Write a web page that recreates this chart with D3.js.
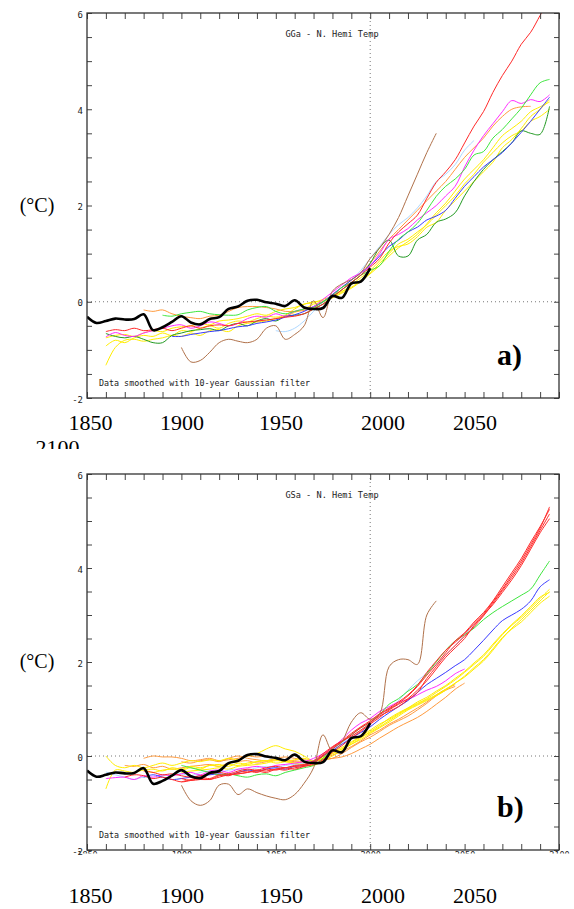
<!DOCTYPE html>
<html><head><meta charset="utf-8">
<script src="https://cdn.jsdelivr.net/npm/d3@7"></script>
<style>html,body{margin:0;padding:0;background:#fff;} svg{display:block;}</style>
</head><body><svg id="c" width="574" height="909"></svg>
<script>
// ---------------- DATA ----------------
const yearLabels = ["1850","1900","1950","2000","2050"];
const yTickLabels = [-2, 0, 2, 4, 6];
const titleTop = "GGa - N. Hemi Temp";
const titleBottom = "GSa - N. Hemi Temp";
const noteText = "Data smoothed with 10-year Gaussian filter";
const unitText = "(°C)";

// observations (1850-2000, 5-yr steps)
const obsStart = 1850;
const obsValues = [-0.31,-0.44,-0.40,-0.35,-0.37,-0.36,-0.26,-0.59,-0.53,-0.42,-0.30,-0.43,-0.47,-0.36,-0.32,-0.15,-0.10,0.02,0.04,-0.01,-0.04,-0.09,0.03,-0.12,-0.15,-0.13,0.12,0.08,0.38,0.42,0.70];

// ---- panel a) GGa (5-yr steps) ----
const topRed = [-0.62,-0.58,-0.60,-0.55,-0.60,-0.58,-0.55,-0.60,-0.55,-0.50,-0.55,-0.50,-0.48,-0.50,-0.45,-0.42,-0.40,-0.38,-0.35,-0.32,-0.30,-0.25,-0.15,-0.05,0.10,0.25,0.40,0.55,0.72,0.90,1.22,1.45,1.62,1.80,2.15,2.48,2.70,2.95,3.30,3.65,3.95,4.35,4.70,5.00,5.35,5.60,5.95,6.30]; // from 1860
const topGreen = [-0.28,-0.30,-0.25,-0.22,-0.20,-0.25,-0.27,-0.28,-0.27,-0.17,-0.12,-0.10,-0.20,-0.25,-0.20,-0.15,-0.12,0.00,0.12,0.30,0.40,0.55,0.65,0.75,1.05,1.30,1.45,1.63,1.90,2.19,2.40,2.55,2.75,3.05,3.12,3.40,3.58,3.80,4.02,4.30,4.55,4.62]; // from 1890
const topDarkGreen = [-0.66,-0.72,-0.75,-0.72,-0.78,-0.85,-0.85,-0.70,-0.65,-0.60,-0.58,-0.56,-0.60,-0.50,-0.45,-0.50,-0.40,-0.35,-0.40,-0.30,-0.28,-0.25,-0.15,-0.05,0.10,0.25,0.40,0.55,0.80,1.12,1.28,0.95,0.95,1.28,1.40,1.65,1.72,1.85,2.20,2.50,2.75,2.95,3.12,3.30,3.55,3.50,3.48,4.06]; // from 1860
const topMagenta = [-0.73,-0.64,-0.70,-0.72,-0.65,-0.60,-0.55,-0.50,-0.48,-0.55,-0.50,-0.42,-0.45,-0.50,-0.45,-0.35,-0.30,-0.32,-0.25,-0.30,-0.20,-0.15,-0.10,0.05,0.20,0.35,0.50,0.60,0.75,1.00,1.30,1.40,1.52,1.70,1.85,2.00,2.20,2.40,2.80,3.15,3.45,3.70,3.95,4.18,4.12,4.20,4.16,4.30]; // from 1860
const topBlue = [-0.72,-0.72,-0.68,-0.65,-0.62,-0.60,-0.56,-0.52,-0.50,-0.45,-0.42,-0.38,-0.32,-0.27,-0.20,-0.10,0.00,0.15,0.30,0.45,0.60,0.75,0.95,1.15,1.28,1.45,1.55,1.70,1.78,1.90,2.15,2.40,2.60,2.80,2.95,3.10,3.30,3.52,3.75,4.00,4.25]; // from 1895
const topOrange = [-0.17,-0.20,-0.17,-0.25,-0.30,-0.33,-0.35,-0.30,-0.28,-0.20,-0.12,-0.10,-0.10,-0.12,-0.15,-0.20,-0.20,-0.18,-0.12,0.00,0.15,0.30,0.45,0.60,0.80,1.05,1.30,1.50,1.70,1.90,2.10,2.30,2.50,2.75,3.00,3.20,3.40,3.65,3.85,4.00,4.05,4.06]; // from 1880
const topLightBlue = [-0.60,-0.62,-0.55,-0.40,-0.20,0.00,0.15,0.30,0.45,0.65,0.90,1.15,1.40,1.60,1.75,1.95,2.20,2.50,2.65,2.85,3.15,3.35]; // from 1950
const topYellow1 = [-1.32,-0.95,-0.80,-0.78,-0.82,-0.78,-0.75,-0.70,-0.72,-0.65,-0.70,-0.60,-0.58,-0.62,-0.50,-0.45,-0.42,-0.40,-0.35,-0.30,-0.22,-0.15,-0.05,0.00,0.10,0.20,0.35,0.50,0.65,0.85,1.05,1.15,1.20,1.35,1.55,1.65,1.90,2.10,2.30,2.50,2.70,2.90,3.20,3.37,3.60,3.85,4.00,4.20]; // from 1860
const topYellow2 = [-0.92,-0.80,-0.85,-0.75,-0.70,-0.72,-0.65,-0.70,-0.60,-0.62,-0.55,-0.50,-0.55,-0.45,-0.40,-0.42,-0.35,-0.30,-0.32,-0.28,-0.15,-0.05,-0.02,0.05,0.12,0.22,0.30,0.45,0.60,0.80,1.00,1.20,1.30,1.45,1.60,1.80,2.00,2.20,2.45,2.65,2.90,3.10,3.30,3.45,3.55,3.75,3.85,4.00]; // from 1860
const topYellow3 = [-0.75,-0.70,-0.68,-0.72,-0.65,-0.60,-0.62,-0.55,-0.52,-0.50,-0.45,-0.48,-0.40,-0.38,-0.35,-0.30,-0.25,-0.28,-0.20,-0.15,-0.12,-0.05,0.00,0.02,0.08,0.18,0.28,0.42,0.58,0.75,0.95,1.12,1.25,1.40,1.62,1.85,2.05,2.30,2.55,2.75,2.95,3.20,3.45,3.60,3.75,3.95,4.05,4.15]; // from 1860
const topBrown = [-0.95,-1.25,-1.22,-1.05,-0.85,-0.78,-0.82,-0.85,-0.78,-0.55,-0.50,-0.78,-0.68,-0.50,0.02,-0.33,0.22,0.37,0.46,0.60,0.90,1.12,1.40,1.75,2.20,2.65,3.10,3.50]; // from 1900

// ---- panel b) GSa (5-yr steps) ----
const botRed1 = [-0.48,-0.52,-0.50,-0.50,-0.45,-0.40,-0.38,-0.35,-0.30,-0.32,-0.28,-0.30,-0.25,-0.22,-0.15,0.00,0.15,0.30,0.45,0.60,0.72,0.85,0.95,1.05,1.20,1.35,1.65,1.90,2.15,2.35,2.55,2.75,2.98,3.25,3.52,3.80,4.10,4.45,4.80,5.15]; // from 1900
const botRed2 = [-0.32,-0.35,-0.40,-0.38,-0.42,-0.45,-0.42,-0.38,-0.35,-0.38,-0.32,-0.28,-0.30,-0.25,-0.22,-0.25,-0.20,-0.18,-0.10,0.05,0.20,0.32,0.42,0.55,0.70,0.88,1.00,1.12,1.28,1.48,1.72,1.95,2.20,2.45,2.62,2.85,3.05,3.30,3.60,3.90,4.20,4.55,4.88,5.25]; // from 1880
const botRed3 = [-0.45,-0.40,-0.42,-0.48,-0.45,-0.50,-0.55,-0.52,-0.48,-0.50,-0.42,-0.40,-0.38,-0.35,-0.32,-0.35,-0.28,-0.25,-0.28,-0.22,-0.18,-0.08,0.08,0.22,0.38,0.52,0.68,0.82,0.98,1.10,1.22,1.40,1.60,1.85,2.10,2.30,2.50,2.78,3.00,3.22,3.48,3.75,4.05,4.40,4.75,5.05]; // from 1870
const botRed4 = [-0.55,-0.50,-0.45,-0.48,-0.40,-0.42,-0.35,-0.32,-0.35,-0.28,-0.30,-0.25,-0.22,-0.20,-0.12,0.02,0.18,0.32,0.48,0.62,0.75,0.90,1.02,1.15,1.30,1.50,1.78,2.02,2.25,2.42,2.60,2.82,3.02,3.28,3.55,3.85,4.15,4.50,4.85,5.30]; // from 1900
const botGreen = [-0.20,-0.25,-0.30,-0.35,-0.40,-0.38,-0.42,-0.45,-0.40,-0.38,-0.42,-0.35,-0.30,-0.25,-0.20,-0.05,0.15,0.30,0.45,0.60,0.72,0.88,1.10,1.22,1.38,1.52,1.75,2.00,2.25,2.45,2.58,2.72,2.90,3.05,3.18,3.30,3.42,3.55,3.85,4.15]; // from 1900
const botBlue = [-0.45,-0.40,-0.45,-0.50,-0.48,-0.45,-0.42,-0.40,-0.38,-0.40,-0.35,-0.30,-0.32,-0.28,-0.25,-0.28,-0.22,-0.20,-0.12,0.00,0.12,0.25,0.38,0.50,0.62,0.78,0.92,1.05,1.18,1.35,1.52,1.65,1.78,1.92,2.05,2.25,2.46,2.68,2.88,3.00,3.12,3.30,3.60,3.75]; // from 1880
const botLightBlue = [-0.34,-0.40,-0.45,-0.50,-0.45,-0.48,-0.42,-0.40,-0.38,-0.42,-0.35,-0.32,-0.35,-0.30,-0.28,-0.30,-0.25,-0.22,-0.25,-0.20,-0.18,-0.15,-0.10,0.02,0.15,0.28,0.42,0.55,0.70,0.85,1.00,1.18,1.40,1.60,1.76,1.95,2.15,2.35,2.58,2.80]; // from 1860
const botMagenta = [-0.48,-0.46,-0.45,-0.50,-0.42,-0.45,-0.40,-0.42,-0.38,-0.35,-0.40,-0.32,-0.30,-0.35,-0.28,-0.25,-0.22,-0.25,-0.20,-0.18,-0.15,-0.12,-0.05,0.05,0.18,0.35,0.55,0.70,0.80,0.95,1.05,1.15,1.20,1.30,1.40,1.48,1.60,1.75,1.85]; // from 1860
const botYellow1 = [0.00,-0.20,-0.25,-0.20,-0.25,-0.20,-0.15,-0.20,-0.15,-0.10,-0.12,-0.08,-0.10,-0.05,-0.08,0.00,0.05,0.15,0.22,0.15,0.10,0.00,-0.10,-0.05,0.05,0.15,0.28,0.40,0.50,0.62,0.75,0.88,1.00,1.10,1.20,1.30,1.42,1.55,1.68,1.85,2.02,2.25,2.50,2.72,2.90,3.10,3.30,3.50]; // from 1860
const botYellow2 = [-0.70,-0.30,-0.32,-0.35,-0.30,-0.35,-0.30,-0.28,-0.30,-0.25,-0.28,-0.20,-0.22,-0.18,-0.20,-0.15,-0.12,-0.10,-0.08,-0.12,-0.15,-0.18,-0.20,-0.10,0.00,0.12,0.25,0.35,0.48,0.60,0.72,0.85,0.98,1.08,1.18,1.28,1.40,1.55,1.70,1.88,2.05,2.28,2.52,2.70,2.85,3.05,3.25,3.40]; // from 1860
const botYellow3 = [-0.30,-0.28,-0.32,-0.25,-0.28,-0.22,-0.25,-0.20,-0.18,-0.22,-0.15,-0.18,-0.12,-0.10,-0.15,-0.12,-0.08,-0.05,-0.10,-0.02,0.05,0.15,0.25,0.38,0.52,0.65,0.80,0.92,1.02,1.12,1.22,1.35,1.48,1.62,1.78,1.95,2.12,2.35,2.58,2.78,2.95,3.15,3.35,3.55]; // from 1880
const botYellow4 = [-0.35,-0.32,-0.30,-0.28,-0.25,-0.28,-0.22,-0.20,-0.18,-0.15,-0.10,-0.12,-0.15,-0.20,-0.12,-0.05,0.08,0.18,0.30,0.42,0.55,0.68,0.78,0.90,1.02,1.15,1.25,1.38,1.50,1.65,1.80,1.98,2.15,2.38,2.60,2.80,2.98,3.18,3.38,3.48]; // from 1900
const botOrange1 = [-0.05,0.00,-0.02,-0.02,-0.05,-0.10,-0.08,-0.05,-0.10,-0.08,-0.05,0.00,-0.02,0.00,-0.05,-0.08,-0.10,-0.12,-0.10,-0.08,-0.05,-0.02,0.05,0.15,0.25,0.38,0.50,0.62,0.72,0.82,0.95,1.10,1.25,1.42,1.55]; // from 1880
const botOrange2 = [-0.20,-0.22,-0.18,-0.25,-0.22,-0.28,-0.25,-0.22,-0.20,-0.18,-0.22,-0.15,-0.12,-0.10,-0.15,-0.12,-0.08,-0.10,-0.12,-0.15,-0.12,-0.08,-0.05,0.05,0.18,0.30,0.40,0.52,0.65,0.75,0.85,0.98,1.12,1.28,1.40,1.48]; // from 1870
const botOrange3 = [-0.12,-0.15,-0.10,-0.08,-0.12,-0.05,0.00,-0.05,-0.08,-0.10,-0.05,-0.02,-0.05,-0.08,-0.10,-0.05,0.02,0.10,0.20,0.32,0.45,0.55,0.68,0.78,0.90,1.02,1.15,1.30,1.42,1.52]; // from 1900
const botBrown = [-0.62,-0.95,-1.05,-0.95,-0.62,-0.60,-0.82,-0.70,-0.78,-0.85,-0.90,-0.93,-0.82,-0.58,-0.25,0.45,0.10,0.30,0.72,0.92,0.78,0.90,1.90,2.05,2.05,1.95,3.00,3.30]; // from 1900

// ---------------- STYLE / LAYOUT ----------------
const C = {red:"#ff2a2a", green:"#3ee63e", dgreen:"#229a22", blue:"#3a3aff", magenta:"#ff2cff",
  yellow:"#ffee00", orange:"#ff9a3c", lblue:"#aed8ff", brown:"#b0714a"};
const MONO = "'DejaVu Sans Mono','Liberation Mono',monospace";
const SERIF = "'Liberation Serif','Times New Roman',serif";
const W = 574, H = 909;
const X0 = 87, X1 = 559;

const svg = d3.select("#c");
svg.append("rect").attr("width", W).attr("height", H).attr("fill", "#fff");
const x = d3.scaleLinear().domain([1850, 2100]).range([X0, X1]);

function drawPanel(p) {
  const y = d3.scaleLinear().domain([-2, 6]).range([p.bottom, p.top]);
  const g = svg.append("g");
  const cid = "clip" + p.id;
  svg.append("clipPath").attr("id", cid).append("rect")
    .attr("x", X0).attr("y", p.top).attr("width", X1 - X0).attr("height", p.bottom - p.top);

  // reference dotted lines
  g.append("line").attr("x1", X0).attr("x2", X1).attr("y1", y(0)).attr("y2", y(0))
    .attr("stroke", "#777").attr("stroke-dasharray", "1,3");
  g.append("line").attr("x1", x(2000)).attr("x2", x(2000)).attr("y1", p.top).attr("y2", p.bottom)
    .attr("stroke", "#777").attr("stroke-dasharray", "1,3");

  const lines = g.append("g").attr("clip-path", `url(#${cid})`);
  const mk = (start) => d3.line().x((d, i) => x(start + 5 * i)).y(d => y(d)).curve(d3.curveCatmullRom.alpha(0.5));
  p.series.forEach(s => {
    lines.append("path").attr("d", mk(s.start)(s.values)).attr("fill", "none")
      .attr("stroke", s.color).attr("stroke-width", 1).attr("stroke-linejoin", "round");
  });
  lines.append("path").attr("d", mk(obsStart)(obsValues)).attr("fill", "none")
    .attr("stroke", "#000").attr("stroke-width", 2.6).attr("stroke-linejoin", "round");

  // axes
  const yTicks = d3.range(-2, 6.01, 0.5);
  const xTicks = d3.range(1850, 2100.1, 10);
  const styleAxis = sel => {
    sel.select(".domain").remove();
    sel.selectAll("line").attr("stroke", "#444");
    sel.selectAll("text").attr("font-family", MONO).attr("font-size", 9).attr("fill", "#222");
  };
  g.append("g").attr("transform", `translate(${X0},0)`)
    .call(d3.axisLeft(y).tickValues(yTicks).tickSize(-5).tickPadding(4)
      .tickFormat(d => yTickLabels.includes(d) ? String(d) : ""))
    .call(styleAxis).call(s => s.selectAll("text").attr("dy", "0.45em"));
  g.append("g").attr("transform", `translate(${X1},0)`)
    .call(d3.axisRight(y).tickValues(yTicks).tickSize(-5).tickFormat(""))
    .call(styleAxis);
  g.append("g").attr("transform", `translate(0,${p.top})`)
    .call(d3.axisTop(x).tickValues(xTicks).tickSize(-6).tickFormat(""))
    .call(styleAxis);
  const bax = g.append("g").attr("transform", `translate(0,${p.bottom})`)
    .call(d3.axisBottom(x).tickValues(xTicks).tickSize(-6).tickPadding(2)
      .tickFormat(d => (p.xLabels && d % 50 === 0) ? String(d) : ""))
    .call(styleAxis);
  if (p.xLabels) {
    // the pasted figure cuts these labels just below the frame
    const bc = "clipb" + p.id;
    svg.append("clipPath").attr("id", bc).append("rect")
      .attr("x", -10).attr("y", -500).attr("width", W + 20).attr("height", 503.5);
    bax.attr("clip-path", `url(#${bc})`);
    bax.selectAll("text").attr("font-size", 8.5);
  }

  // frame
  g.append("rect").attr("x", X0).attr("y", p.top).attr("width", X1 - X0).attr("height", p.bottom - p.top)
    .attr("fill", "none").attr("stroke", "#333").attr("stroke-width", 1.3);

  // title & note
  g.append("text").attr("x", 332).attr("y", p.top + 24).attr("text-anchor", "middle")
    .attr("font-family", MONO).attr("font-size", 8.6).attr("fill", "#222").text(p.title);
  g.append("text").attr("x", 99).attr("y", p.bottom - 12)
    .attr("font-family", MONO).attr("font-size", 8.35).attr("fill", "#222").text(noteText);
  // unit label
  g.append("text").attr("x", 37).attr("y", y(2) + 6).attr("text-anchor", "middle")
    .attr("font-family", SERIF).attr("font-size", 20).attr("fill", "#000").text(unitText);
  // panel letter
  g.append("text").attr("x", 497).attr("y", p.bottom - 33)
    .attr("font-family", SERIF).attr("font-weight", "bold").attr("font-size", 30).attr("fill", "#000").text(p.letter);
  return y;
}

const S = (values, start, color) => ({values, start, color});

drawPanel({id: "a", top: 13, bottom: 398, title: titleTop, letter: "a)", xLabels: false,
  series: [
    S(topYellow1, 1860, C.yellow), S(topYellow2, 1860, C.yellow), S(topYellow3, 1860, C.yellow),
    S(topLightBlue, 1950, C.lblue), S(topOrange, 1880, C.orange), S(topDarkGreen, 1860, C.dgreen),
    S(topBlue, 1895, C.blue), S(topMagenta, 1860, C.magenta), S(topGreen, 1890, C.green),
    S(topRed, 1860, C.red), S(topBrown, 1900, C.brown)
  ]});

drawPanel({id: "b", top: 474, bottom: 850, title: titleBottom, letter: "b)", xLabels: true,
  series: [
    S(botOrange1, 1880, C.orange), S(botOrange2, 1870, C.orange), S(botOrange3, 1900, C.orange),
    S(botYellow1, 1860, C.yellow), S(botYellow2, 1860, C.yellow), S(botYellow3, 1880, C.yellow), S(botYellow4, 1900, C.yellow),
    S(botLightBlue, 1860, C.lblue), S(botMagenta, 1860, C.magenta), S(botBlue, 1880, C.blue),
    S(botGreen, 1900, C.green),
    S(botRed1, 1900, C.red), S(botRed2, 1880, C.red), S(botRed3, 1870, C.red), S(botRed4, 1900, C.red),
    S(botBrown, 1900, C.brown)
  ]});

// large year captions (pasted below each panel)
const bigX = [90.6, 182, 281, 383, 475];
function bigRow(baseline) {
  svg.append("g").selectAll("text").data(yearLabels).join("text")
    .attr("x", (d, i) => bigX[i]).attr("y", baseline).attr("text-anchor", "middle")
    .attr("font-family", SERIF).attr("font-size", 22).attr("fill", "#000").text(d => d);
}
bigRow(430);
bigRow(903);
svg.append("clipPath").attr("id", "cut2100").append("rect").attr("x", 0).attr("y", 0).attr("width", W).attr("height", 449);
svg.append("text").attr("x", 57.6).attr("y", 455).attr("text-anchor", "middle").attr("clip-path", "url(#cut2100)")
  .attr("font-family", SERIF).attr("font-size", 22).attr("fill", "#000").text("2100");
</script></body></html>
